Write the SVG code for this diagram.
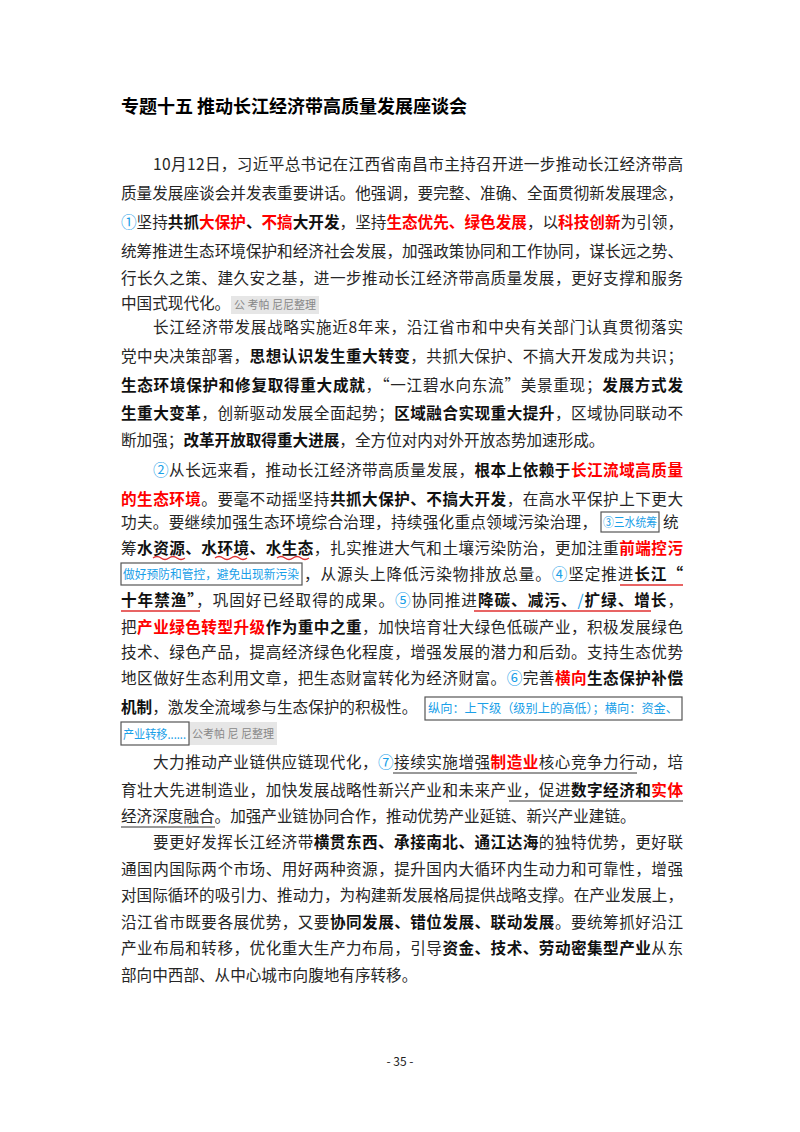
<svg xmlns="http://www.w3.org/2000/svg" width="800" height="1132" viewBox="0 0 800 1132">
<style>
text{font-family:"Noto Sans CJK SC","Noto Sans",sans-serif;font-size:15.6px;fill:#262626}
.b{font-weight:700;fill:#111}
.r{fill:#ff0000;font-weight:700}
.c{fill:#1aa0e8}
.n{font-size:12.5px;fill:#1aa0e8}
.g{font-size:11px;fill:#888}
.box{fill:none;stroke:#555;stroke-width:1.2}
.gb{fill:#e6e6e6}
.ru{stroke:#e03030;stroke-width:1.3;fill:none}
.ku{stroke:#333;stroke-width:1;fill:none}
</style>
<rect width="800" height="1132" fill="#fff"/>
<g id="title"><text x="121" y="113" style="font-size:18px;font-weight:700;fill:#000">专题十五 推动长江经济带高质量发展座谈会</text></g>
<g id="p1">
<text x="153" y="170" textLength="530" lengthAdjust="spacing">10月12日，习近平总书记在江西省南昌市主持召开进一步推动长江经济带高</text>
<text x="121" y="199" textLength="562" lengthAdjust="spacing">质量发展座谈会并发表重要讲话。他强调，要完整、准确、全面贯彻新发展理念，</text>
<text x="121" y="228" textLength="562" lengthAdjust="spacing"><tspan class="c">①</tspan>坚持<tspan class="b">共抓</tspan><tspan class="r">大保护</tspan><tspan class="b">、</tspan><tspan class="r">不搞</tspan><tspan class="b">大开发</tspan>，坚持<tspan class="r">生态优先、绿色发展</tspan>，以<tspan class="r">科技创新</tspan>为引领，</text>
<text x="121" y="257" textLength="562" lengthAdjust="spacing">统筹推进生态环境保护和经济社会发展，加强政策协同和工作协同，谋长远之势、</text>
<text x="121" y="284" textLength="562" lengthAdjust="spacing">行长久之策、建久安之基，进一步推动长江经济带高质量发展，更好支撑和服务</text>
<text x="121" y="309">中国式现代化。</text>
<rect class="gb" x="231" y="296" width="88" height="18"/>
<text class="g" x="234" y="309">公 考帕  尼尼整理</text>
</g>
<g id="p2">
<text x="153" y="333" textLength="530" lengthAdjust="spacing">长江经济带发展战略实施近8年来，沿江省市和中央有关部门认真贯彻落实</text>
<text x="121" y="362" textLength="562" lengthAdjust="spacing">党中央决策部署，<tspan class="b">思想认识发生重大转变</tspan>，共抓大保护、不搞大开发成为共识；</text>
<text x="121" y="391" textLength="562" lengthAdjust="spacing"><tspan class="b">生态环境保护和修复取得重大成就</tspan>，“一江碧水向东流”美景重现；<tspan class="b">发展方式发</tspan></text>
<text x="121" y="419" textLength="562" lengthAdjust="spacing"><tspan class="b">生重大变革</tspan>，创新驱动发展全面起势；<tspan class="b">区域融合实现重大提升</tspan>，区域协同联动不</text>
<text x="121" y="446">断加强；<tspan class="b">改革开放取得重大进展</tspan>，全方位对内对外开放态势加速形成。</text>
</g>
<g id="p3">
<text x="153" y="476" textLength="530" lengthAdjust="spacing"><tspan class="c">②</tspan>从长远来看，推动长江经济带高质量发展，<tspan class="b">根本上依赖于</tspan><tspan class="r">长江流域高质量</tspan></text>
<text x="121" y="505" textLength="562" lengthAdjust="spacing"><tspan class="r">的生态环境</tspan>。要毫不动摇坚持<tspan class="b">共抓大保护、不搞大开发</tspan>，在高水平保护上下更大</text>
<text x="121" y="528" textLength="476" lengthAdjust="spacing">功夫。要继续加强生态环境综合治理，持续强化重点领域污染治理，</text>
<rect class="box" x="601" y="512" width="58" height="20"/>
<text class="n" x="603" y="527" textLength="54" lengthAdjust="spacingAndGlyphs">③三水统筹</text>
<text x="663" y="528">统</text>
<text x="121" y="554" textLength="562" lengthAdjust="spacing">筹<tspan class="b">水资源</tspan><tspan class="b">、</tspan><tspan class="b">水环境</tspan><tspan class="b">、</tspan><tspan class="b">水生态</tspan>，扎实推进大气和土壤污染防治，更加注重<tspan class="r">前端控污</tspan></text>
<path class="ru" d="M153 558 q4 -3 8 0 t8 0 t8 0 t8 0 M215 558 q4 -3 8 0 t8 0 t8 0 t8 0 M277 558 q4 -3 8 0 t8 0 t8 0 t8 0"/>
<rect class="box" x="121" y="563" width="181" height="22"/>
<text class="n" x="123" y="579" textLength="176" lengthAdjust="spacingAndGlyphs">做好预防和管控，避免出现新污染</text>
<text x="304" y="580" textLength="379" lengthAdjust="spacing">，从源头上降低污染物排放总量。<tspan class="c">④</tspan>坚定推进<tspan class="b">长江“</tspan></text>
<line class="ru" x1="620" y1="585" x2="683" y2="585"/>
<text x="121" y="606" textLength="562" lengthAdjust="spacing"><tspan class="b">十年禁渔”</tspan>，巩固好已经取得的成果。<tspan class="c">⑤</tspan>协同推进<tspan class="b">降碳、减污、</tspan><tspan class="c">/</tspan><tspan class="b">扩绿、增长</tspan>，</text>
<line class="ru" x1="121" y1="611" x2="200" y2="611"/>
<line class="ru" x1="474" y1="611" x2="651" y2="611"/>
<text x="121" y="633" textLength="562" lengthAdjust="spacing">把<tspan class="r">产业绿色转型升级</tspan><tspan class="b">作为重中之重</tspan>，加快培育壮大绿色低碳产业，积极发展绿色</text>
<text x="121" y="658" textLength="562" lengthAdjust="spacing">技术、绿色产品，提高经济绿色化程度，增强发展的潜力和后劲。支持生态优势</text>
<text x="121" y="684" textLength="562" lengthAdjust="spacing">地区做好生态利用文章，把生态财富转化为经济财富。<tspan class="c">⑥</tspan>完善<tspan class="r">横向</tspan><tspan class="b">生态保护补偿</tspan></text>
<text x="121" y="713"><tspan class="b">机制</tspan>，激发全流域参与生态保护的积极性。</text>
<rect class="box" x="425" y="697" width="257" height="23"/>
<text class="n" x="428" y="713" textLength="250" lengthAdjust="spacingAndGlyphs">纵向：上下级（级别上的高低）；横向：资金、</text>
<rect class="gb" x="189" y="722" width="88" height="23"/>
<rect class="box" x="121" y="722" width="68" height="23"/>
<text class="n" x="123" y="739" textLength="63" lengthAdjust="spacingAndGlyphs">产业转移......</text>
<text class="g" x="192" y="738">公考帕  尼  尼整理</text>
</g>
<g id="p4">
<text x="153" y="768" textLength="530" lengthAdjust="spacing">大力推动产业链供应链现代化，<tspan class="c">⑦</tspan>接续实施增强<tspan class="r">制造业</tspan>核心竞争力行动，培</text>
<line class="ku" x1="393" y1="773" x2="637" y2="773"/>
<text x="121" y="796" textLength="562" lengthAdjust="spacing">育壮大先进制造业，加快发展战略性新兴产业和未来产业，促进<tspan class="b">数字经济和</tspan><tspan class="r">实体</tspan></text>
<line class="ku" x1="509" y1="801" x2="683" y2="801"/>
<text x="121" y="822">经济深度融合。加强产业链协同合作，推动优势产业延链、新兴产业建链。</text>
<line class="ku" x1="121" y1="827" x2="215" y2="827"/>
</g>
<g id="p5">
<text x="153" y="848" textLength="530" lengthAdjust="spacing">要更好发挥长江经济带<tspan class="b">横贯东西、承接南北、通江达海</tspan>的独特优势，更好联</text>
<text x="121" y="875" textLength="562" lengthAdjust="spacing">通国内国际两个市场、用好两种资源，提升国内大循环内生动力和可靠性，增强</text>
<text x="121" y="901" textLength="562" lengthAdjust="spacing">对国际循环的吸引力、推动力，为构建新发展格局提供战略支撑。在产业发展上，</text>
<text x="121" y="928" textLength="562" lengthAdjust="spacing">沿江省市既要各展优势，又要<tspan class="b">协同发展、错位发展、联动发展</tspan>。要统筹抓好沿江</text>
<text x="121" y="954" textLength="562" lengthAdjust="spacing">产业布局和转移，优化重大生产力布局，引导<tspan class="b">资金、技术、劳动密集型产业</tspan>从东</text>
<text x="121" y="981">部向中西部、从中心城市向腹地有序转移。</text>
</g>
<g id="page"><text x="400" y="1066" text-anchor="middle" style="font-size:12px;fill:#222">- 35 -</text></g>
</svg>
